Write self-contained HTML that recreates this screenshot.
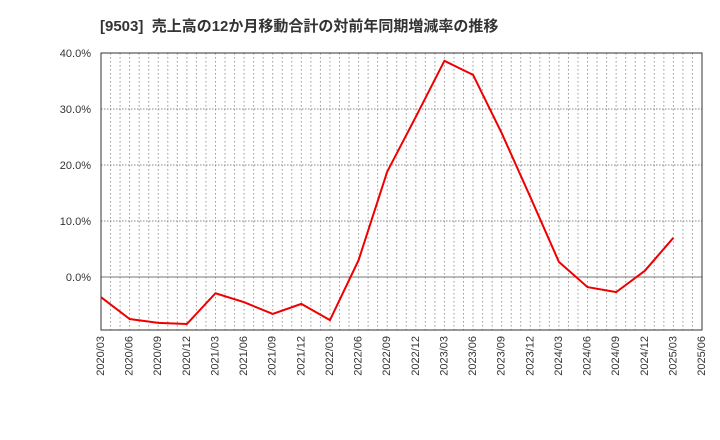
<!DOCTYPE html>
<html><head><meta charset="utf-8"><style>
body{margin:0;background:#fff;}
svg{display:block;font-family:"Liberation Sans","Noto Sans CJK JP",sans-serif;}
</style></head><body>
<svg id="chart" width="720" height="440">
<text x="100" y="31" font-size="15" font-weight="bold" fill="#333">[9503]&#160; 売上高の12か月移動合計の対前年同期増減率の推移</text>
<g id="grid"></g><g id="axes"></g><g id="series"></g>
</svg>
<script>
const categories=["2020/03","2020/06","2020/09","2020/12","2021/03","2021/06","2021/09","2021/12","2022/03","2022/06","2022/09","2022/12","2023/03","2023/06","2023/09","2023/12","2024/03","2024/06","2024/09","2024/12","2025/03","2025/06"];
const values=[-3.6,-7.5,-8.2,-8.4,-2.9,-4.5,-6.6,-4.8,-7.7,3.0,18.8,28.6,38.6,36.1,25.7,14.3,2.7,-1.8,-2.7,1.1,7.0];
const yTicks=[0,10,20,30,40];
const yTickLabels=["0.0%","10.0%","20.0%","30.0%","40.0%"];
const L=101,R=702,T=53,B=330;
const ns="http://www.w3.org/2000/svg";
function x(i){return L+(R-L)*i/(categories.length-1);}
function y(v){return 277-(v)*5.6;}
function mk(tag,attrs,parent){const e=document.createElementNS(ns,tag);for(const k in attrs)e.setAttribute(k,attrs[k]);parent.appendChild(e);return e;}
const grid=document.getElementById('grid'),axes=document.getElementById('axes'),series=document.getElementById('series');
for(let m=1;m<(categories.length-1)*3;m++){const xx=L+(R-L)*m/((categories.length-1)*3);
const l=mk('line',{x1:xx,x2:xx,y1:T,y2:B,stroke:'#999','stroke-dasharray':'1.5,2.5','stroke-width':1},grid);

}
yTicks.forEach((t,i)=>{const yy=y(t);
const l=mk('line',{x1:L,x2:R,y1:yy,y2:yy,stroke:i==0?'#777':'#888','stroke-dasharray':i==0?'':'1.5,1.5','stroke-width':1},grid);


const tx=mk('text',{x:L-10,y:yy+4,'text-anchor':'end','font-size':11,fill:'#333'},axes);tx.textContent=yTickLabels[i];

});
const fr=mk('rect',{x:L,y:T,width:R-L,height:B-T,fill:'none',stroke:'#333','stroke-width':1},axes);


categories.forEach((c,i)=>{const xx=x(i);
const tx=mk('text',{x:0,y:0,transform:`translate(${xx+3},${B+6}) rotate(-90)`,'text-anchor':'end','font-size':11,fill:'#333'},axes);tx.textContent=c;

});
const p=mk('polyline',{points:values.map((v,i)=>x(i)+','+y(v)).join(' '),fill:'none',stroke:'#e00','stroke-width':2},series);


</script>
</body></html>
